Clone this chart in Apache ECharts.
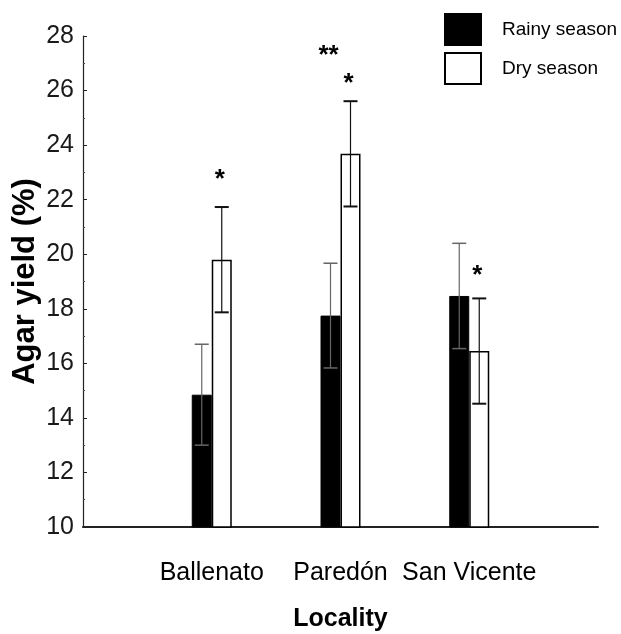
<!DOCTYPE html>
<html>
<head>
<meta charset="utf-8">
<script src="https://cdn.jsdelivr.net/npm/echarts@6/dist/echarts.min.js"></script>
<style>
html,body{margin:0;padding:0;background:#fff;}
#chart{width:621px;height:634px;}
</style>
</head>
<body>
<div id="chart"></div>
<script>
// ---- data ----
var categories = ['', 'Ballenato', 'Paredón', 'San Vicente', ''];
var seriesNames = ['Rainy season', 'Dry season'];
var rainyMean = [null, 14.85, 17.75, 18.47, null];
var rainyErr  = [null, 1.85, 1.92, 1.93, null];
var dryMean   = [null, 19.8, 23.68, 16.45, null];
var dryErr    = [null, 1.93, 1.93, 1.93, null];
var yTicks = [10, 12, 14, 16, 18, 20, 22, 24, 26, 28];
// significance marks: [category index, series index (0 rainy,1 dry), y value, text]
var sigMarks = [
  [1, 1, 22.87, '*'],
  [2, 0, 27.41, '**'],
  [2, 1, 26.39, '*'],
  [3, 1, 19.35, '*']
];

var BAR_W = 20;
var FONT = '"Liberation Sans", Arial, sans-serif';
var chart = echarts.init(document.getElementById('chart'));

function errData(mean, err, s) {
  var out = [];
  for (var i = 0; i < mean.length; i++) {
    if (mean[i] != null) out.push([i, mean[i] - err[i], mean[i] + err[i], s]);
  }
  return out;
}

function renderErr(params, api) {
  var s = api.value(3);
  var lo = api.coord([api.value(0), api.value(1)]);
  var hi = api.coord([api.value(0), api.value(2)]);
  var x = lo[0] + (s === 0 ? -BAR_W / 2 : BAR_W / 2);
  var cap = 7;
  var color = s === 0 ? '#666' : '#111';
  var capW = s === 0 ? 1.5 : 2;
  return {
    type: 'group',
    children: [
      {type: 'line', shape: {x1: x, y1: lo[1], x2: x, y2: hi[1]}, style: {stroke: color, lineWidth: 1.2}},
      {type: 'line', shape: {x1: x - cap, y1: lo[1], x2: x + cap, y2: lo[1]}, style: {stroke: color, lineWidth: capW}},
      {type: 'line', shape: {x1: x - cap, y1: hi[1], x2: x + cap, y2: hi[1]}, style: {stroke: color, lineWidth: capW}}
    ]
  };
}

function renderSig(params, api) {
  var s = api.value(1);
  var p = api.coord([api.value(0), api.value(2)]);
  var x = p[0] + (s === 0 ? -BAR_W / 2 : BAR_W / 2) - 2;
  return {
    type: 'text',
    style: {
      x: x, y: p[1] + 4,
      text: sigMarks[params.dataIndex][3],
      font: 'bold 26px ' + FONT,
      fill: '#000', align: 'center', verticalAlign: 'middle'
    }
  };
}

var option = {
  animation: false,
  backgroundColor: '#fff',
  grid: {left: 83, right: 23, top: 36, bottom: 107, containLabel: false, outerBoundsMode: 'none'},
  legend: {
    orient: 'vertical', left: 444, top: 13, padding: 0,
    itemWidth: 36, itemHeight: 31, itemGap: 6,
    icon: 'rect',
    data: seriesNames,
    textStyle: {fontFamily: FONT, fontSize: 19, color: '#000', padding: [0, 0, 0, 16]}
  },
  xAxis: {
    type: 'category',
    data: categories,
    boundaryGap: false,
    axisLine: {lineStyle: {color: '#222', width: 2}},
    axisTick: {show: false},
    axisLabel: {color: '#000', fontSize: 25, fontFamily: FONT, margin: 34, interval: 0},
    splitLine: {show: false},
    name: 'Locality',
    nameLocation: 'middle',
    nameGap: 80,
    nameMoveOverlap: false,
    nameTextStyle: {color: '#000', fontSize: 25, fontWeight: 'bold', fontFamily: FONT}
  },
  yAxis: {
    type: 'value',
    min: yTicks[0], max: yTicks[yTicks.length - 1], interval: 2,
    axisLine: {show: true, lineStyle: {color: '#222', width: 1.2}},
    axisTick: {show: true, inside: true, length: 4, lineStyle: {color: '#222'}},
    minorTick: {show: true, splitNumber: 2, length: 2, lineStyle: {color: '#444'}},
    axisLabel: {color: '#1a1a1a', fontSize: 25, fontFamily: FONT, margin: 9},
    splitLine: {show: false},
    name: 'Agar yield (%)',
    nameLocation: 'middle',
    nameGap: 42,
    nameMoveOverlap: false,
    nameTextStyle: {color: '#000', fontSize: 31, fontWeight: 'bold', fontFamily: FONT}
  },
  series: [
    {
      name: seriesNames[0], type: 'bar', data: rainyMean, barWidth: BAR_W, barGap: '0%',
      itemStyle: {color: '#000', borderColor: '#000', borderWidth: 1}
    },
    {
      name: seriesNames[1], type: 'bar', data: dryMean, barWidth: BAR_W, barGap: '0%',
      itemStyle: {color: '#fff', borderColor: '#000', borderWidth: 1.5}
    },
    {
      type: 'custom', renderItem: renderErr, data: errData(rainyMean, rainyErr, 0).concat(errData(dryMean, dryErr, 1)),
      encode: {x: 0, y: [1, 2]}, z: 5, silent: true
    },
    {
      type: 'custom', renderItem: renderSig, data: sigMarks.map(function (m) { return [m[0], m[1], m[2]]; }),
      encode: {x: 0, y: 2}, z: 6, silent: true
    }
  ]
};
chart.setOption(option);
</script>
</body>
</html>
